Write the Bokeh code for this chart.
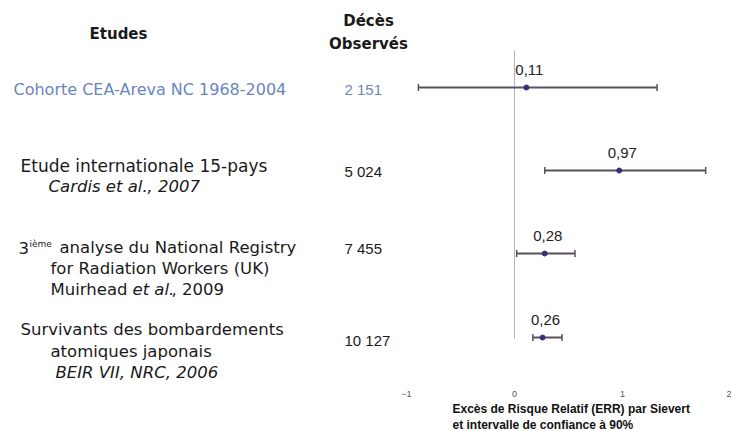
from bokeh.plotting import figure
from bokeh.models import (Range1d, LinearAxis, FixedTicker, Label, Whisker,
                          TeeHead, ColumnDataSource, Title)
from bokeh.embed import file_html
from bokeh.resources import INLINE
from bokeh.core.properties import value

# ---------------- data ----------------
deaths = ["2 151", "5 024", "7 455", "10 127"]
err = [0.11, 0.97, 0.28, 0.26]
err_lo = [-0.89, 0.28, 0.02, 0.17]
err_hi = [1.32, 1.77, 0.56, 0.44]
ticks = [-1, 0, 1, 2]
axis_title = ["Excès de Risque Relatif (ERR) par Sievert",
              "et intervalle de confiance à 90%"]

# ---------------- layout (reference pixel coordinates) ----------------
W, H = 731, 431
ORIGIN = 0
FRAME_BOTTOM = 389            # in reference pixels
row_y = [87, 170, 253, 337]
PX_PER_UNIT = 108.0
ZERO_PX = 514.0

x_start = (ORIGIN - ZERO_PX) / PX_PER_UNIT
x_end = (ORIGIN + W - ZERO_PX) / PX_PER_UNIT

p = figure(width=W, height=H, output_backend="svg", toolbar_location=None,
           x_range=Range1d(x_start, x_end),
           y_range=Range1d(FRAME_BOTTOM, ORIGIN),
           min_border_left=0, min_border_right=0, min_border_top=0,
           min_border_bottom=H - (FRAME_BOTTOM - ORIGIN),
           x_axis_type=None, y_axis_type=None)
p.extra_x_ranges = {"px": Range1d(ORIGIN, ORIGIN + W)}
p.outline_line_color = None
p.xgrid.visible = False
p.ygrid.visible = False
p.background_fill_color = "white"
p.border_fill_color = "white"

axis = LinearAxis(ticker=FixedTicker(ticks=ticks))
axis.axis_line_alpha = 0
axis.major_tick_line_alpha = 0
axis.minor_tick_line_alpha = 0
axis.major_label_text_font_size = "9px"
axis.major_label_text_color = "#555555"
axis.major_label_text_font = "Liberation Sans"
axis.major_label_standoff = 1
axis.major_tick_out = 0
axis.major_tick_in = 0
p.add_layout(axis, "below")

SANS = "DejaVu Sans"
ARIAL = "Liberation Sans"

# axis title (two left-aligned lines) as titles stacked below the axis
for line in axis_title:
    p.add_layout(Title(text=line, align="left", offset=452, standoff=0,
                       text_font=ARIAL, text_font_size="12px",
                       text_font_style="bold", text_color="#111111",
                       text_line_height=1.0), "below")


def lab(x, y, text, size="16.5px", style="normal", color="#1a1a1a",
        font=SANS, align="left"):
    p.add_layout(Label(x=x, y=y, text=text, x_range_name="px",
                       text_font=font, text_font_size=size,
                       text_font_style=style, text_color=color,
                       text_align=align, text_baseline="middle"))


# headers
lab(118, 33, "Etudes", size="15px", style="bold", align="center")
lab(368, 20, "Décès", size="15px", style="bold", align="center")
lab(368, 43, "Observés", size="15px", style="bold", align="center")

# study descriptions
lab(13, row_y[0] + 2, "Cohorte CEA-Areva NC 1968-2004", color="#6a86c0", size="16px")

lab(20, 165, "Etude internationale 15-pays", size="17px")
lab(48, 186, "Cardis et al., 2007", style="italic")

lab(18, 247, "3")
lab(29, 243, "ième", size="9px")
lab(59, 247, "analyse du National Registry")
lab(50, 268, "for Radiation Workers (UK)")
lab(50, 289, "Muirhead ")
lab(132, 289, "et al.", style="italic")
lab(171, 289, ", 2009")

lab(20, 329, "Survivants des bombardements")
lab(50, 351, "atomiques japonais")
lab(55, 372, "BEIR VII, NRC, 2006", style="italic")

# observed deaths
death_y = [89, 171, 248, 340]
for d, yy, col in zip(deaths, death_y, ["#6a86c0", "#1a1a1a", "#1a1a1a", "#1a1a1a"]):
    lab(344, yy, d, size="15px", font=ARIAL, color=col)

# zero reference line
p.segment(x0=[0], y0=[50], x1=[0], y1=[338], line_color="#b8b2bc", line_width=1)

# confidence intervals
src = ColumnDataSource(dict(y=row_y, lo=err_lo, hi=err_hi, err=err,
                            ly=[yy - 18 for yy in row_y],
                            txt=[f"{v:.2f}".replace(".", ",") for v in err]))
p.segment(x0="lo", y0="y", x1="hi", y1="y", source=src,
          line_color="#5a5060", line_width=2)
wh = Whisker(base="y", lower="lo", upper="hi", dimension="width", source=src,
             line_alpha=0,
             upper_head=TeeHead(size=7, line_color="#5a5060", line_width=1.5),
             lower_head=TeeHead(size=7, line_color="#5a5060", line_width=1.5))
p.add_layout(wh)
p.scatter(x="err", y="y", source=src, size=5, color="#3a2c78")
p.text(x="err", y="ly", text="txt", source=src, text_font=value(ARIAL),
       text_font_size="15px", text_color="#222222", text_align="center",
       text_baseline="middle", x_offset=3)

open("out.html", "w").write(file_html(p, INLINE))
